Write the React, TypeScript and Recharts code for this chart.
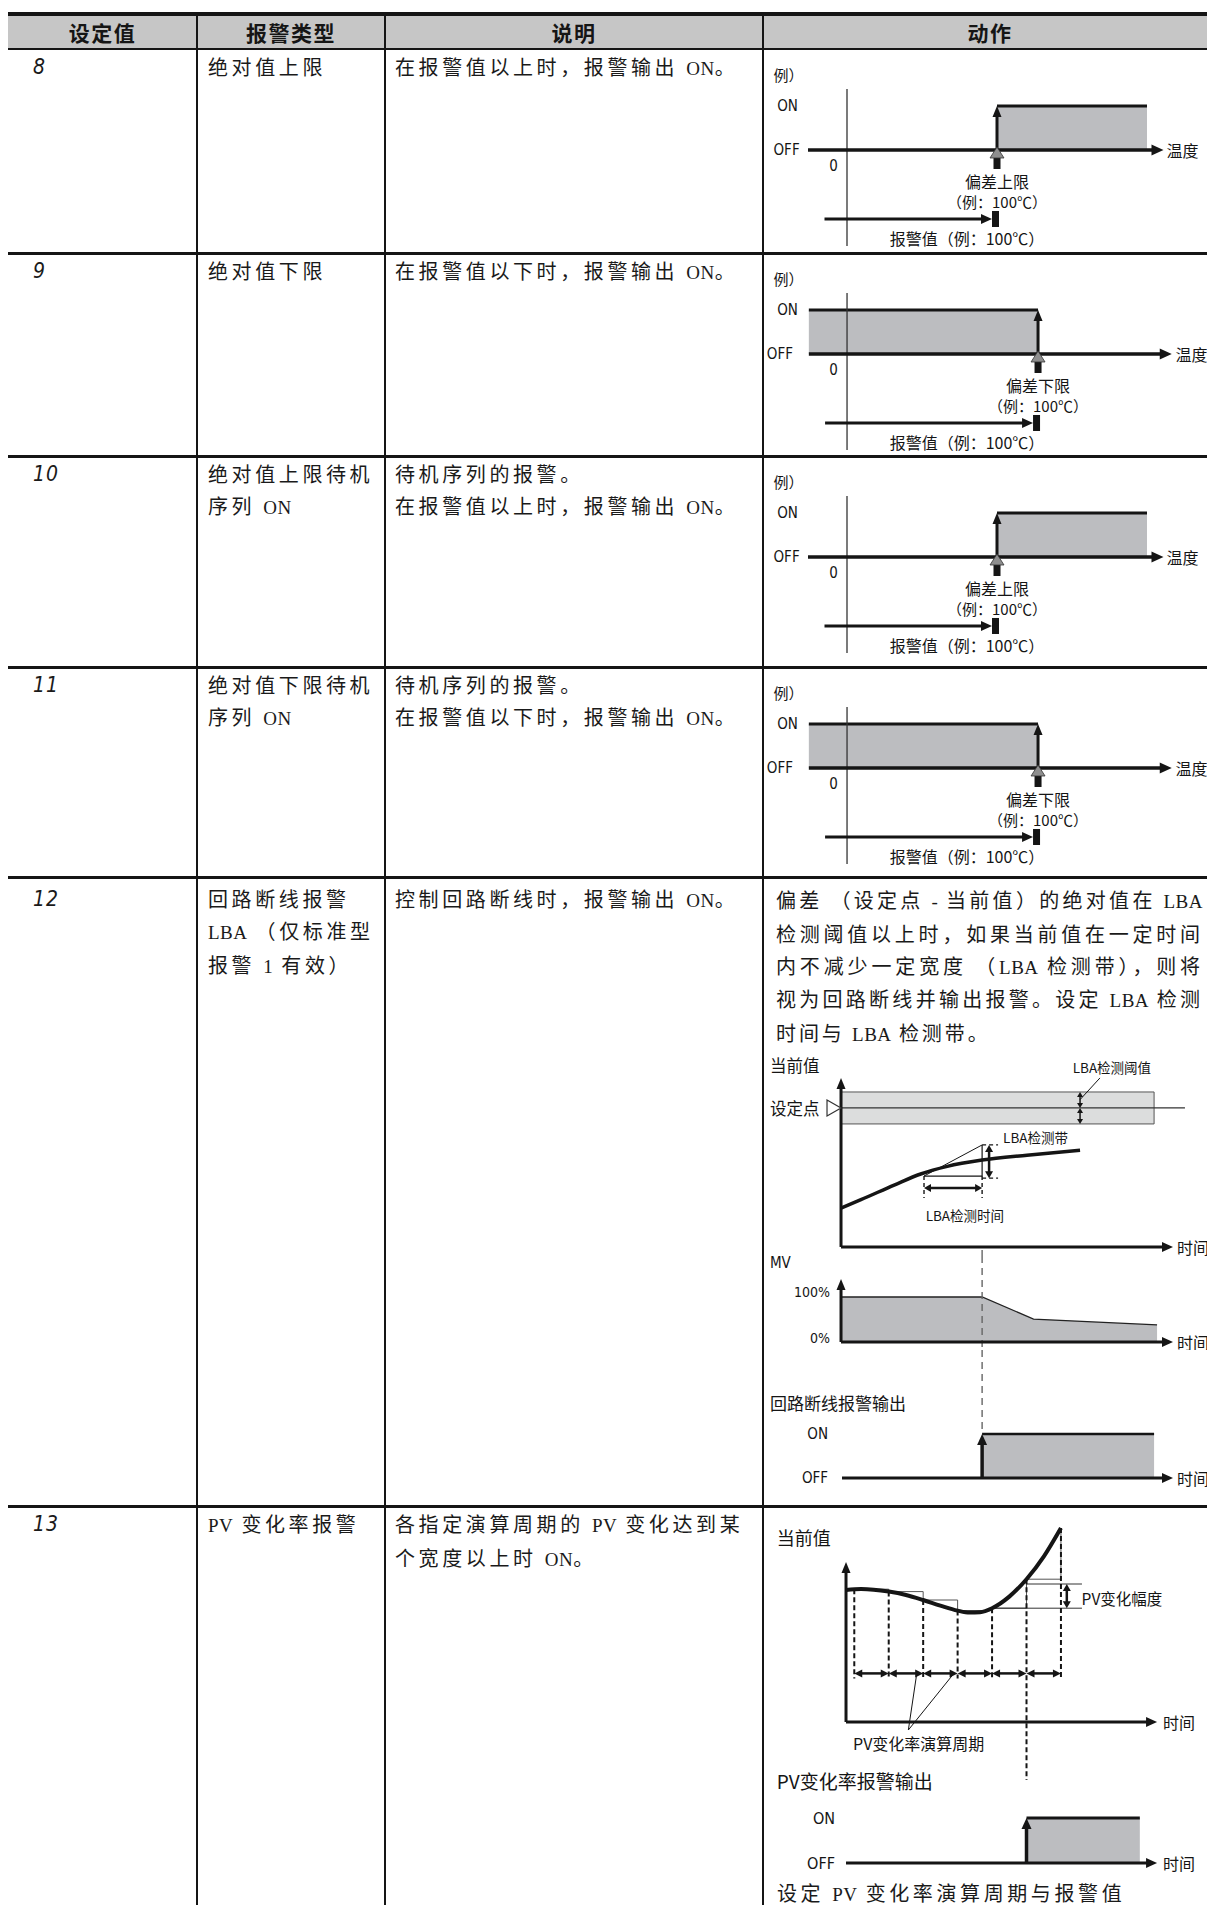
import React from 'react';
import { ComposedChart, XAxis, YAxis, Area, Line, ReferenceLine, ReferenceDot, ReferenceArea } from 'recharts';

// ---------- table text ----------
const headers = ['设定值', '报警类型', '说明', '动作'];
const setValues = ['8', '9', '10', '11', '12', '13'];
const alarmTypes = [
  ['绝对值上限'],
  ['绝对值下限'],
  ['绝对值上限待机', '序列 ON'],
  ['绝对值下限待机', '序列 ON'],
  ['回路断线报警', 'LBA （仅标准型', '报警 1 有效）'],
  ['PV 变化率报警'],
];
const descriptions = [
  ['在报警值以上时，报警输出 ON。'],
  ['在报警值以下时，报警输出 ON。'],
  ['待机序列的报警。', '在报警值以上时，报警输出 ON。'],
  ['待机序列的报警。', '在报警值以下时，报警输出 ON。'],
  ['控制回路断线时，报警输出 ON。'],
  ['各指定演算周期的 PV 变化达到某', '个宽度以上时 ON。'],
];
const lbaNote = [
  '偏差 （设定点 - 当前值）的绝对值在 LBA',
  '检测阈值以上时，如果当前值在一定时间',
  '内不减少一定宽度 （LBA 检测带），则将',
  '视为回路断线并输出报警。设定 LBA 检测',
  '时间与 LBA 检测带。',
];
const pvNote = '设定 PV 变化率演算周期与报警值';

// ---------- absolute alarm diagrams (temperature ℃, output 0 = OFF / 1 = ON) ----------
const alarmValue = 100;
const upperOn = [{ t: 100, out: 1 }, { t: 200, out: 1 }];
const lowerOn = [{ t: -20, out: 1 }, { t: 100, out: 1 }];
const upperTempAxis = [-26, 211];
const lowerTempAxis = [-20, 170];

// ---------- LBA diagram ----------
const lbaTime = [0, 6, 16, 24, 32, 42.5, 56, 72];
const lbaPv = [28, 34, 44.5, 52.5, 58, 62.5, 66, 69.5];
const lbaSetpoint = 100;
const lbaThreshold = 11.5;
const lbaBandTop = 73.4;
const lbaBandBottom = 51;
const lbaDetectStart = 25;
const lbaDetectEnd = 42.5;
const mvTime = [0, 42.5, 58, 95.2];
const mvValue = [100, 100, 51, 38];
const lbaOutput = [{ t: 42.5, out: 1 }, { t: 94.3, out: 1 }];

// ---------- PV change-rate diagram (time in calculation periods) ----------
const pvTime = [-0.24, 0.2, 1, 1.5, 2, 2.5, 3, 3.35, 3.65, 4, 4.5, 5, 5.5, 6];
const pvValue = [66, 66.5, 65.2, 63.5, 61, 58.2, 55.7, 54.7, 54.9, 56.9, 62.7, 71.4, 82.7, 97];
const pvSamples = [66.4, 65.2, 61, 55.7, 56.9, 71.4, 97];
const pvAmplitude = [56.9, 69];
const pvAlarmOn = [{ t: 5, out: 1 }, { t: 8.29, out: 1 }];

// ---------- styling ----------
const INK = '#151515';
const GRAY = '#bcbdc0';
const HEADER_BG = '#c6c6c6';
const SANS = '"Noto Sans CJK SC", "Noto Sans", sans-serif';
const NARROW = '"Liberation Sans Narrow", "DejaVu Sans Condensed", "Noto Sans", sans-serif';
const M0 = { top: 0, right: 0, bottom: 0, left: 0 };
const ROW_TOPS = [49, 253, 456, 667, 877, 1506];
const COL_X = [197, 385, 763];
const HEAD_CX = [102.5, 291, 574, 990];

type ArrowOpt = { w?: number; head?: number; hw?: number; both?: boolean; color?: string };
const arrow = (o: ArrowOpt = {}) => (p: any) => {
  const { x1, y1, x2, y2 } = p;
  const w = o.w ?? 2, head = o.head ?? 9, hw = o.hw ?? 8, color = o.color ?? INK;
  const len = Math.hypot(x2 - x1, y2 - y1) || 1;
  const ux = (x2 - x1) / len, uy = (y2 - y1) / len;
  const nx = (-uy * hw) / 2, ny = (ux * hw) / 2;
  const tip = (tx: number, ty: number, dx: number, dy: number) =>
    `${tx},${ty} ${tx - dx * head + nx},${ty - dy * head + ny} ${tx - dx * head - nx},${ty - dy * head - ny}`;
  const sx = o.both ? x1 + ux * head * 0.7 : x1;
  const sy = o.both ? y1 + uy * head * 0.7 : y1;
  return (
    <g>
      <line x1={sx} y1={sy} x2={x2 - ux * head * 0.7} y2={y2 - uy * head * 0.7} stroke={color} strokeWidth={w} />
      <polygon points={tip(x2, y2, ux, uy)} fill={color} />
      {o.both && <polygon points={tip(x1, y1, -ux, -uy)} fill={color} />}
    </g>
  );
};

type TxtOpt = { size?: number; anchor?: 'start' | 'middle' | 'end'; weight?: number; font?: string };
const txt = (key: string, x: number, y: number, text: string, o: TxtOpt = {}) => (
  <ReferenceDot
    key={key}
    x={x}
    y={y}
    r={0}
    ifOverflow="visible"
    shape={(p: any) => (
      <text
        x={p.cx}
        y={p.cy}
        fontSize={o.size ?? 15}
        textAnchor={o.anchor ?? 'start'}
        dominantBaseline="central"
        fontFamily={o.font ?? SANS}
        fontWeight={o.weight ?? 400}
        fill={INK}
      >
        {text}
      </text>
    )}
  />
);

const seg = (key: string, x1: number, y1: number, x2: number, y2: number, o: { w?: number; dash?: string; color?: string } = {}) => (
  <ReferenceLine
    key={key}
    segment={[{ x: x1, y: y1 }, { x: x2, y: y2 }]}
    stroke={o.color ?? INK}
    strokeWidth={o.w ?? 1}
    strokeDasharray={o.dash}
    ifOverflow="visible"
  />
);

const arr = (key: string, x1: number, y1: number, x2: number, y2: number, o: ArrowOpt = {}) => (
  <ReferenceLine key={key} segment={[{ x: x1, y: y1 }, { x: x2, y: y2 }]} ifOverflow="visible" shape={arrow(o)} />
);

// small gray pointer under the temperature axis
const pointer = (p: any) => (
  <g>
    <rect x={p.cx - 3.5} y={p.cy + 7} width={7} height={12} fill={INK} />
    <polygon points={`${p.cx},${p.cy - 3} ${p.cx - 7},${p.cy + 8} ${p.cx + 7},${p.cy + 8}`} fill="#8e8e8e" stroke="#333" strokeWidth={0.8} />
  </g>
);

// alarm value arrow ending in a black block
const valueArrow = (p: any) => {
  const { x1, y1, x2, y2 } = p;
  return (
    <g>
      <line x1={x1} y1={y1} x2={x2 - 12} y2={y2} stroke={INK} strokeWidth={3} />
      <polygon points={`${x2 - 5},${y2} ${x2 - 16},${y2 - 5} ${x2 - 16},${y2 + 5}`} fill={INK} />
      <rect x={x2 - 5} y={y2 - 8} width={7} height={16} fill={INK} />
    </g>
  );
};

const spMarker = (p: any) => (
  <polygon points={`${p.cx - 14},${p.cy - 8} ${p.cx},${p.cy} ${p.cx - 14},${p.cy + 8}`} fill="#fff" stroke="#333" strokeWidth={1.2} />
);

function AlarmChart({ upper, top }: { upper: boolean; top: number }) {
  const domain: [number, number] = upper ? [-56, 240] : [-44, 188.46];
  const axis = upper ? upperTempAxis : lowerTempAxis;
  const on = upper ? upperOn : lowerOn;
  const lx = upper ? [-49, -46.5, -49, -9, -15, 80] : [-38.5, -36.6, -42, -7, -11.5, 62.8];
  return (
    <div style={{ position: 'absolute', left: 763, top }}>
      <ComposedChart width={444} height={200} margin={M0}>
        <XAxis type="number" dataKey="t" domain={domain} hide allowDataOverflow />
        <YAxis type="number" domain={[-2.25, 2.295]} hide allowDataOverflow />
        <Area data={on} dataKey="out" stroke="none" fill={GRAY} fillOpacity={1} isAnimationActive={false} />
        <Line data={on} dataKey="out" stroke={INK} strokeWidth={3} dot={false} activeDot={false} isAnimationActive={false} />
        {seg('vaxis', 0, 1.386, 0, -2.18, { w: 1.3, color: '#333' })}
        {arr('taxis', axis[0], 0, axis[1], 0, { w: 3.5, head: 12, hw: 11 })}
        {arr('up', alarmValue, 0, alarmValue, 1, { w: 3, head: 11, hw: 9 })}
        <ReferenceDot x={alarmValue} y={0} r={0} ifOverflow="visible" shape={pointer} />
        <ReferenceLine segment={[{ x: lx[4], y: -1.568 }, { x: alarmValue, y: -1.568 }]} ifOverflow="visible" shape={valueArrow} />
        {txt('ex', lx[0], 1.705, '例）', { size: 15 })}
        {txt('on', lx[1], 1, 'ON', { size: 15, font: NARROW })}
        {txt('off', lx[2], 0, 'OFF', { size: 15, font: NARROW })}
        {txt('zero', lx[3], -0.364, '0', { size: 15, font: NARROW, anchor: 'middle' })}
        {txt('temp', axis[1] + 2, 0, '温度', { size: 16 })}
        {txt('l1', alarmValue, -0.705, upper ? '偏差上限' : '偏差下限', { size: 16, anchor: 'middle' })}
        {txt('l2', alarmValue, -1.16, '（例：100℃）', { size: 15, anchor: 'middle' })}
        {txt('l3', lx[5], -2.0, '报警值（例：100℃）', { size: 16, anchor: 'middle' })}
      </ComposedChart>
    </div>
  );
}

const LBA_X: [number, number] = [-23.5, 110.24];

function LbaDiagram() {
  const curve = lbaTime.map((t, i) => ({ t, pv: lbaPv[i] }));
  const mv = mvTime.map((t, i) => ({ t, mv: mvValue[i] }));
  const hi = lbaSetpoint + lbaThreshold;
  const lo = lbaSetpoint - lbaThreshold;
  const dash = { w: 1.4, dash: '7 5', color: '#666' };
  return (
    <>
      <div style={{ position: 'absolute', left: 763, top: 1045 }}>
        <ComposedChart width={444} height={211} margin={M0}>
          <XAxis type="number" dataKey="t" domain={LBA_X} hide allowDataOverflow />
          <YAxis type="number" domain={[-6.5, 145.3]} hide allowDataOverflow />
          <ReferenceArea x1={0} x2={94.3} y1={lo} y2={hi} fill="#dcdddd" fillOpacity={1} stroke="#555" strokeWidth={1} ifOverflow="visible" />
          {seg('sp', -2.7, lbaSetpoint, 103.6, lbaSetpoint, { w: 1.2, color: '#333' })}
          <ReferenceDot x={0} y={lbaSetpoint} r={0} ifOverflow="visible" shape={spMarker} />
          <Line data={curve} dataKey="pv" type="monotone" stroke={INK} strokeWidth={3.5} dot={false} activeDot={false} isAnimationActive={false} />
          {arr('yax', 0, 0, 0, 121.6, { w: 3, head: 11, hw: 9 })}
          {arr('xax', 0, 0, 100, 0, { w: 3, head: 11, hw: 10 })}
          {arr('th1', 72, lbaSetpoint, 72, hi, { w: 1.5, head: 5, hw: 6, both: true })}
          {arr('th2', 72, lbaSetpoint, 72, lo, { w: 1.5, head: 5, hw: 6, both: true })}
          {seg('lead', 72, 106, 78, 121.6, { w: 1 })}
          {seg('tri1', lbaDetectStart, lbaBandBottom, lbaDetectEnd, lbaBandTop, { w: 1 })}
          {seg('tri2', lbaDetectStart, lbaBandBottom, lbaDetectEnd, lbaBandBottom, { w: 1.2 })}
          {seg('tri3', lbaDetectEnd, lbaBandBottom, lbaDetectEnd, lbaBandTop, { w: 1.2 })}
          {seg('ext1', lbaDetectEnd, lbaBandTop, 47.3, lbaBandTop, { w: 1.2, dash: '4 3' })}
          {seg('ext2', lbaDetectEnd, lbaBandBottom - 1.5, 47.3, lbaBandBottom - 1.5, { w: 1.2, dash: '4 3' })}
          {arr('band', 44.6, lbaBandBottom - 1.5, 44.6, lbaBandTop, { w: 2.5, head: 7, hw: 8, both: true })}
          {seg('d1', lbaDetectStart, lbaBandBottom, lbaDetectStart, 35.3, { w: 1.4, dash: '4 3' })}
          {seg('d2', lbaDetectEnd, lbaBandBottom, lbaDetectEnd, 35.3, { w: 1.4, dash: '4 3' })}
          {arr('dt', lbaDetectStart, 42.4, lbaDetectEnd, 42.4, { w: 2.5, head: 7, hw: 8, both: true })}
          {seg('dash', lbaDetectEnd, -2.2, lbaDetectEnd, -6.5, dash)}
          {txt('pv', -21.4, 131, '当前值', { size: 16.5 })}
          {txt('sp', -21.4, lbaSetpoint, '设定点', { size: 16.5 })}
          {txt('thr', 81.6, 129.5, 'LBA检测阈值', { size: 13.5, anchor: 'middle' })}
          {txt('bd', 58.6, 79.4, 'LBA检测带', { size: 13.5, anchor: 'middle' })}
          {txt('tm', 37.3, 23, 'LBA检测时间', { size: 13.5, anchor: 'middle' })}
          {txt('t', 101.2, 0, '时间', { size: 16 })}
        </ComposedChart>
      </div>
      <div style={{ position: 'absolute', left: 763, top: 1246 }}>
        <ComposedChart width={444} height={104} margin={M0}>
          <XAxis type="number" dataKey="t" domain={LBA_X} hide allowDataOverflow />
          <YAxis type="number" domain={[-17.8, 213.3]} hide allowDataOverflow />
          <Area data={mv} dataKey="mv" type="linear" stroke="#222" strokeWidth={1.3} fill={GRAY} fillOpacity={1} isAnimationActive={false} />
          {seg('dash', lbaDetectEnd, 191.1, lbaDetectEnd, -17.8, dash)}
          {arr('yax', 0, 0, 0, 140, { w: 3, head: 11, hw: 9 })}
          {arr('xax', 0, 0, 100, 0, { w: 3, head: 11, hw: 10 })}
          {txt('mv', -21.4, 175.6, 'MV', { size: 15, font: NARROW })}
          {txt('100', -3.3, 111, '100%', { size: 14, font: NARROW, anchor: 'end' })}
          {txt('0', -3.3, 8.9, '0%', { size: 14, font: NARROW, anchor: 'end' })}
          {txt('t', 101.2, 0, '时间', { size: 16 })}
        </ComposedChart>
      </div>
      <div style={{ position: 'absolute', left: 763, top: 1350 }}>
        <ComposedChart width={444} height={145} margin={M0}>
          <XAxis type="number" dataKey="t" domain={LBA_X} hide allowDataOverflow />
          <YAxis type="number" domain={[-0.386, 2.909]} hide allowDataOverflow />
          <Area data={lbaOutput} dataKey="out" stroke="none" fill={GRAY} fillOpacity={1} isAnimationActive={false} />
          <Line data={lbaOutput} dataKey="out" stroke={INK} strokeWidth={2.5} dot={false} activeDot={false} isAnimationActive={false} />
          {seg('dash', lbaDetectEnd, 2.909, lbaDetectEnd, 1, dash)}
          {arr('xax', 0.3, 0, 100, 0, { w: 3, head: 11, hw: 10 })}
          {arr('up', lbaDetectEnd, 0, lbaDetectEnd, 1, { w: 3.5, head: 11, hw: 10 })}
          {txt('ttl', -21.4, 1.705, '回路断线报警输出', { size: 17 })}
          {txt('on', -3.9, 1, 'ON', { size: 15, font: NARROW, anchor: 'end' })}
          {txt('off', -3.9, 0, 'OFF', { size: 15, font: NARROW, anchor: 'end' })}
          {txt('t', 101.2, 0, '时间', { size: 16 })}
        </ComposedChart>
      </div>
    </>
  );
}

const PV_X: [number, number] = [-2.65, 10.24];

function PvRateDiagram() {
  const curve = pvTime.map((t, i) => ({ t, pv: pvValue[i] }));
  const periods = pvSamples.slice(0, -1).map((_, k) => k);
  return (
    <>
      <div style={{ position: 'absolute', left: 763, top: 1522 }}>
        <ComposedChart width={444} height={278} margin={M0}>
          <XAxis type="number" dataKey="t" domain={PV_X} hide allowDataOverflow />
          <YAxis type="number" domain={[-39, 100]} hide allowDataOverflow />
          {periods.map((k) => seg(`sh${k}`, k, pvSamples[k], k + 1, pvSamples[k], { w: 1, color: '#555' }))}
          {periods.map((k) => seg(`sv${k}`, k + 1, pvSamples[k], k + 1, pvSamples[k + 1], { w: 1, color: '#555' }))}
          {seg('a1', 4, pvAmplitude[0], 6.61, pvAmplitude[0], { w: 1, color: '#333' })}
          {seg('a2', 5, pvAmplitude[1], 6.61, pvAmplitude[1], { w: 1, color: '#333' })}
          {pvSamples.map((s, k) => seg(`dl${k}`, k, s, k, k === 5 ? -29 : 21.8, { w: 2, dash: '5 3' }))}
          <Line data={curve} dataKey="pv" type="monotone" stroke={INK} strokeWidth={4} dot={false} activeDot={false} isAnimationActive={false} />
          {periods.map((k) => arr(`pa${k}`, k, 24.3, k + 1, 24.3, { w: 2.5, head: 8, hw: 8, both: true }))}
          {arr('amp', 6.17, pvAmplitude[0], 6.17, pvAmplitude[1], { w: 2.5, head: 7, hw: 8, both: true })}
          {seg('ld1', 1.57, -4, 1.81, 23.8, { w: 1 })}
          {seg('ld2', 1.57, -4, 2.87, 23.8, { w: 1 })}
          {arr('yax', -0.24, 0, -0.24, 80, { w: 3, head: 11, hw: 9 })}
          {arr('xax', -0.24, 0, 8.79, 0, { w: 3, head: 11, hw: 10 })}
          {txt('pv', -2.25, 92.5, '当前值', { size: 18 })}
          {txt('amp', 6.6, 61.8, 'PV变化幅度', { size: 15.5 })}
          {txt('per', 1.87, -10.7, 'PV变化率演算周期', { size: 16, anchor: 'middle' })}
          {txt('out', -2.25, -29, 'PV变化率报警输出', { size: 19 })}
          {txt('t', 8.96, 0, '时间', { size: 16 })}
        </ComposedChart>
      </div>
      <div style={{ position: 'absolute', left: 763, top: 1800 }}>
        <ComposedChart width={444} height={105} margin={M0}>
          <XAxis type="number" dataKey="t" domain={PV_X} hide allowDataOverflow />
          <YAxis type="number" domain={[-0.933, 1.4]} hide allowDataOverflow />
          <Area data={pvAlarmOn} dataKey="out" stroke="none" fill={GRAY} fillOpacity={1} isAnimationActive={false} />
          <Line data={pvAlarmOn} dataKey="out" stroke={INK} strokeWidth={3} dot={false} activeDot={false} isAnimationActive={false} />
          {arr('xax', -0.24, 0, 8.79, 0, { w: 3, head: 11, hw: 10 })}
          {arr('up', 5, 0, 5, 1, { w: 3.5, head: 11, hw: 10 })}
          {txt('on', -0.56, 1, 'ON', { size: 16, font: NARROW, anchor: 'end' })}
          {txt('off', -0.56, 0, 'OFF', { size: 16, font: NARROW, anchor: 'end' })}
          {txt('t', 8.96, 0, '时间', { size: 16 })}
        </ComposedChart>
      </div>
    </>
  );
}

// latin runs in a serif face, CJK in Noto
const rich = (s: string) =>
  s.split(/([A-Za-z0-9\-]+)/).map((part, i) =>
    i % 2 ? (
      <span key={i} style={{ fontFamily: '"Liberation Serif", serif', letterSpacing: 0.5, fontSize: 19 }}>
        {part}
      </span>
    ) : (
      part
    ),
  );

const body: React.CSSProperties = {
  position: 'absolute',
  fontFamily: SANS,
  fontSize: 20,
  fontWeight: 400,
  letterSpacing: 3.6,
  lineHeight: '32px',
  color: '#1a1a1a',
  whiteSpace: 'pre',
};

export default function App() {
  return (
    <div style={{ position: 'absolute', left: 0, top: 0, width: 1207, height: 1905, overflow: 'hidden', background: '#fff' }}>
      <div style={{ position: 'absolute', left: 8, top: 15, width: 1199, height: 33, background: HEADER_BG }} />
      <div style={{ position: 'absolute', left: 8, top: 12, width: 1199, height: 3.5, background: INK }} />
      <div style={{ position: 'absolute', left: 8, top: 47.5, width: 1199, height: 2.5, background: INK }} />
      {ROW_TOPS.slice(1).map((y) => (
        <div key={y} style={{ position: 'absolute', left: 8, top: y - 1.5, width: 1199, height: 3, background: INK }} />
      ))}
      {COL_X.map((x) => (
        <div key={x} style={{ position: 'absolute', left: x - 1.25, top: 12, width: 2.5, height: 1893, background: INK }} />
      ))}

      {headers.map((h, i) => (
        <div
          key={h}
          style={{
            position: 'absolute',
            left: HEAD_CX[i] - 100,
            width: 200,
            top: 16,
            lineHeight: '32px',
            textAlign: 'center',
            fontFamily: SANS,
            fontWeight: 700,
            fontSize: 21,
            letterSpacing: 1.5,
            color: INK,
          }}
        >
          {h}
        </div>
      ))}

      {setValues.map((v, i) => {
        const top = ROW_TOPS[i] + (i === 4 ? 6 : 2);
        return (
          <React.Fragment key={v}>
            <div style={{ ...body, left: 33, top, fontFamily: NARROW, fontStyle: 'italic', fontWeight: 300, fontSize: 21, letterSpacing: 1 }}>{v}</div>
            <div style={{ ...body, left: 208, top }}>
              {alarmTypes[i].map((l) => (
                <div key={l}>{rich(l)}</div>
              ))}
            </div>
            <div style={{ ...body, left: 395, top }}>
              {descriptions[i].map((l) => (
                <div key={l}>{rich(l)}</div>
              ))}
            </div>
          </React.Fragment>
        );
      })}

      <div style={{ ...body, left: 776, top: 884, lineHeight: '31.8px', letterSpacing: 2.9, whiteSpace: 'normal' }}>
        {lbaNote.map((l, i) => (
          <div
            key={l}
            style={{ width: i < lbaNote.length - 1 ? 427 : undefined, textAlign: 'justify', textAlignLast: i < lbaNote.length - 1 ? 'justify' : 'left', whiteSpace: 'nowrap' }}
          >
            {rich(l)}
          </div>
        ))}
      </div>

      <AlarmChart upper top={ROW_TOPS[0]} />
      <AlarmChart upper={false} top={ROW_TOPS[1]} />
      <AlarmChart upper top={ROW_TOPS[2]} />
      <AlarmChart upper={false} top={ROW_TOPS[3]} />
      <LbaDiagram />
      <PvRateDiagram />

      <div style={{ ...body, left: 777, top: 1877 }}>{rich(pvNote)}</div>
    </div>
  );
}
